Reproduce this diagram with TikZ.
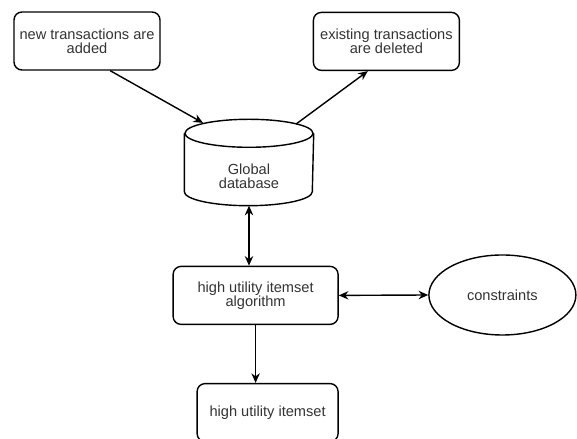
\documentclass[tikz,border=0pt]{standalone}
\usepackage{fontspec}
\setmainfont{Liberation Sans}
\usetikzlibrary{shapes.geometric, arrows.meta}
\tikzset{every picture/.append style={line width=1pt}}
\tikzset{
    procbox/.style={draw, rounded corners=0.2cm, align=center, text=black!80,
        minimum width=3.65cm, minimum height=1.45cm, inner sep=0pt},
    dbbody/.style={align=center, text=black!80, minimum width=3.2cm, minimum height=1.425cm, inner sep=0pt},
    condisc/.style={draw, ellipse, text=black!80, minimum width=3.675cm, minimum height=2cm, inner sep=0pt}
}

\begin{document}
\begin{tikzpicture}[>={Stealth[length=2.4mm, width=2.1mm]}, font=\fontsize{10.4}{10}\selectfont]
    \useasboundingbox (0,0) rectangle (14.425,10.975);

    % Sources of change to the data
    \node[procbox] (added) at (2.175,9.95) {new transactions are\\added};
    \node[procbox] (deleted) at (9.66,9.94) {existing transactions\\are deleted};

    % Database: body node, lid and sides drawn round it
    \node[dbbody] (db) at (6.225,6.5625) {Global\\database};
    \draw ([yshift=0.35cm]db.north) ellipse [x radius=1.6cm, y radius=0.35cm];
    \draw ([yshift=0.35cm]db.north west) -- ([yshift=0.35cm]db.south west)
        arc[start angle=180, end angle=360, x radius=1.6cm, y radius=0.35cm]
        -- ([yshift=0.35cm]db.north east);

    % Mining step and its inputs/outputs
    \node[procbox, minimum width=4.125cm] (algo) at (6.39,3.59) {high utility itemset\\algorithm};
    \node[condisc] (cons) at (12.56,3.6) {constraints};
    \node[procbox, minimum width=3.525cm] (hui) at (6.69,0.66) {high utility itemset};

    % Connectors
    \draw[->] (added.-52) -- ([shift={(-1.15,1.34)}]db.center);
    \draw[->] ([shift={(1.175,1.31)}]db.center) -- (deleted.-122);
    \draw[<->] (db.south) -- (db.south |- algo.north);
    \draw[<->] (algo.east) -- (cons.west);
    \draw[->] (algo.south) -- (algo.south |- hui.north);
\end{tikzpicture}
\end{document}
